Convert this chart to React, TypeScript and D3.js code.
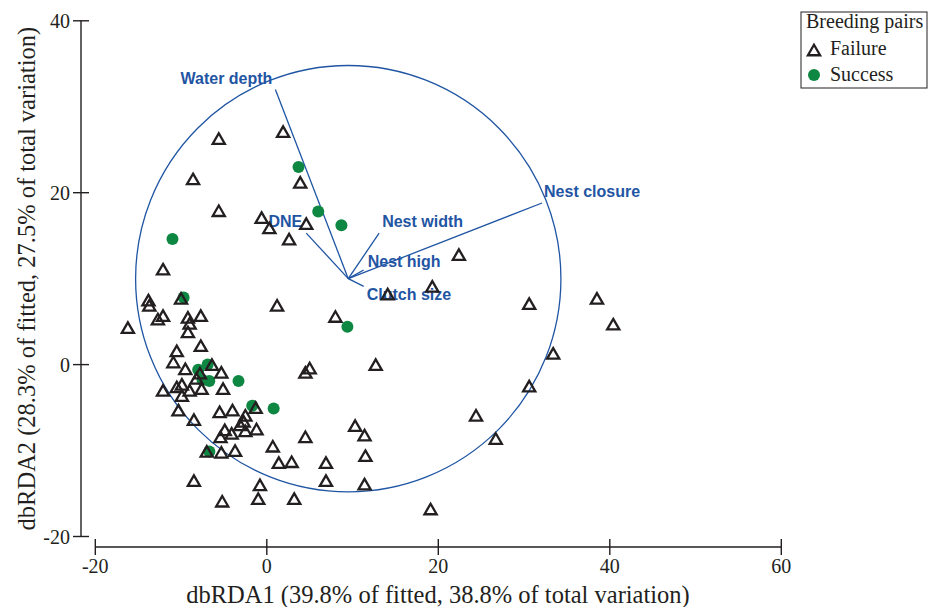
import React from "react";
import * as d3 from "d3";

// site scores
const failurePoints: [number, number][] = [
  [-5.6, 26.3], [1.9, 27.1], [-8.6, 21.6], [3.9, 21.2], [-5.6, 17.9],
  [-0.6, 17.1], [0.3, 15.9], [4.6, 16.4], [2.6, 14.6], [22.4, 12.8],
  [19.3, 9.1], [14.1, 8.2], [30.6, 7.1], [1.2, 6.9], [-12.1, 11.1],
  [-10.0, 7.7], [8.0, 5.6], [-13.8, 7.5], [-13.7, 6.9], [-12.7, 5.3],
  [-12.1, 5.7], [-16.2, 4.3], [-9.2, 5.5], [-7.7, 5.7], [-9.0, 4.8],
  [-9.2, 3.8], [-10.5, 1.6], [-7.7, 2.2], [-10.9, 0.3], [-9.5, -0.5],
  [-6.4, 0.0], [-5.3, -0.9], [-8.2, -1.6], [-7.8, -1.0], [-10.5, -2.6],
  [-9.9, -2.3], [-12.1, -3.0], [-9.0, -3.0], [-7.6, -2.8], [-5.1, -2.8],
  [-9.9, -3.6], [-10.3, -5.3], [-8.5, -6.4], [-5.5, -5.5], [-4.0, -5.3],
  [-1.3, -5.0], [-2.5, -5.9], [-2.7, -6.6], [-3.1, -7.0], [-4.9, -7.6],
  [-5.4, -8.4], [-4.1, -8.0], [-2.5, -7.7], [-1.2, -7.5], [4.5, -8.4],
  [0.7, -9.5], [-7.0, -10.1], [-5.3, -10.2], [-3.7, -10.0], [1.4, -11.4],
  [2.9, -11.3], [-8.5, -13.5], [-0.8, -14.0], [-5.2, -15.9], [-1.0, -15.6],
  [3.2, -15.6], [4.5, -0.9], [5.0, -0.4], [12.7, 0.0], [10.3, -7.1],
  [11.4, -8.2], [11.5, -10.6], [6.9, -11.4], [6.9, -13.5], [11.4, -13.9],
  [19.1, -16.8], [24.4, -5.9], [26.7, -8.6], [30.6, -2.5], [33.4, 1.3],
  [38.5, 7.7], [40.4, 4.7],
];

const successPoints: [number, number][] = [
  [3.7, 23.0], [6.0, 17.8], [8.7, 16.2], [-11.0, 14.6], [-9.7, 7.8],
  [9.4, 4.4], [-6.9, 0.0], [-8.0, -0.6], [-7.5, -1.8], [-6.7, -1.9],
  [-3.3, -1.9], [-1.7, -4.8], [0.8, -5.1], [-6.7, -10.1],
];

// predictor vectors: origin and tips
const vectorOrigin: [number, number] = [9.5, 10.0];
const vectorNames = ["Water depth", "Nest closure", "Nest width", "DNE", "Nest high", "Clutch size"];
const vectorTipX = [1.0, 32.1, 13.1, 4.6, 11.3, 11.3];
const vectorTipY = [32.0, 18.8, 15.3, 15.3, 11.0, 9.1];
const circleRadius = 24.8;

const xTicks = [-20, 0, 20, 40, 60];
const yTicks = [-20, 0, 20, 40];
const legendLabels = ["Failure", "Success"];

// where each vector label sits relative to its tip (px)
const labelPlace: Record<string, { dx: number; dy: number; anchor: string }> = {
  "Water depth": { dx: -3, dy: -6, anchor: "end" },
  "Nest closure": { dx: 2, dy: -6, anchor: "start" },
  "Nest width": { dx: 3, dy: -6, anchor: "start" },
  DNE: { dx: -4, dy: -6, anchor: "end" },
  "Nest high": { dx: 4, dy: -3, anchor: "start" },
  "Clutch size": { dx: 3, dy: 14, anchor: "start" },
};

const BLUE = "#1f55a3";
const GREEN = "#0e8742";
const INK = "#231f20";
const SERIF = "'Liberation Serif', 'Times New Roman', serif";
const SANS = "'Liberation Sans', Arial, sans-serif";

// triangle centred on its bounding box
const boxTriangle = {
  draw(ctx: any, size: number) {
    const s = Math.sqrt(size / (Math.sqrt(3) / 4));
    const h = (s * Math.sqrt(3)) / 2;
    ctx.moveTo(0, -h / 2);
    ctx.lineTo(s / 2, h / 2);
    ctx.lineTo(-s / 2, h / 2);
    ctx.closePath();
  },
};

export default function App() {
  const width = 929;
  const height = 607;
  const x = d3.scaleLinear().domain([-20, 60]).range([95.3, 781.3]);
  const y = d3.scaleLinear().domain([-20, 40]).range([536.5, 20.8]);
  const tri = d3.symbol(boxTriangle as any, 64)()!;

  const yAxisX = 81;
  const xAxisY = 547;
  const [ox, oy] = vectorOrigin;

  return (
    <svg
      width={width}
      height={height}
      style={{ position: "absolute", left: 0, top: 0, background: "#fff" }}
    >
      {/* y axis */}
      <line x1={yAxisX} x2={yAxisX} y1={y(40)} y2={y(-20)} stroke={INK} strokeWidth={1.4} />
      {yTicks.map((t) => (
        <g key={t}>
          <line x1={yAxisX - 8} x2={yAxisX + 8} y1={y(t)} y2={y(t)} stroke={INK} strokeWidth={1.4} />
          <text x={yAxisX - 11} y={y(t)} dy="0.35em" textAnchor="end" fontFamily={SERIF} fontSize={20} fill={INK}>
            {t}
          </text>
        </g>
      ))}
      {/* x axis */}
      <line x1={x(-20)} x2={x(60)} y1={xAxisY} y2={xAxisY} stroke={INK} strokeWidth={1.4} />
      {xTicks.map((t) => (
        <g key={t}>
          <line x1={x(t)} x2={x(t)} y1={xAxisY - 8} y2={xAxisY + 8} stroke={INK} strokeWidth={1.4} />
          <text x={x(t)} y={573} textAnchor="middle" fontFamily={SERIF} fontSize={20} fill={INK}>
            {t}
          </text>
        </g>
      ))}
      <text x={438} y={603} textAnchor="middle" fontFamily={SERIF} fontSize={24.5} fill={INK}>
        dbRDA1 (39.8% of fitted, 38.8% of total variation)
      </text>
      <text
        transform={`translate(35, ${(y(40) + y(-20)) / 2}) rotate(-90)`}
        textAnchor="middle"
        fontFamily={SERIF}
        fontSize={24.5}
        fill={INK}
      >
        dbRDA2 (28.3% of fitted, 27.5% of total variation)
      </text>

      {/* correlation circle */}
      <ellipse
        cx={x(ox)}
        cy={y(oy)}
        rx={x(ox + circleRadius) - x(ox)}
        ry={y(oy) - y(oy + circleRadius)}
        fill="none"
        stroke={BLUE}
        strokeWidth={1.3}
      />
      {vectorNames.map((name, i) => {
        const tx = x(vectorTipX[i]);
        const ty = y(vectorTipY[i]);
        const p = labelPlace[name];
        return (
          <g key={name}>
            <line x1={x(ox)} y1={y(oy)} x2={tx} y2={ty} stroke={BLUE} strokeWidth={1.3} />
            <text
              x={tx + p.dx}
              y={ty + p.dy}
              textAnchor={p.anchor as any}
              fontFamily={SANS}
              fontWeight="bold"
              fontSize={16}
              fill={BLUE}
            >
              {name}
            </text>
          </g>
        );
      })}

      {/* samples */}
      {successPoints.map(([a, b], i) => (
        <circle key={`s${i}`} cx={x(a)} cy={y(b)} r={6} fill={GREEN} />
      ))}
      {failurePoints.map(([a, b], i) => (
        <path
          key={`f${i}`}
          d={tri}
          transform={`translate(${x(a)},${y(b)})`}
          fill="none"
          stroke={INK}
          strokeWidth={2.3}
        />
      ))}

      {/* legend */}
      <g>
        <rect x={801} y={12} width={126} height={76} fill="#fff" stroke={INK} strokeWidth={1} />
        <text x={806} y={28} fontFamily={SERIF} fontSize={20} fill={INK}>
          Breeding pairs
        </text>
        <path d={tri} transform="translate(814,50)" fill="none" stroke={INK} strokeWidth={2.3} />
        <text x={830} y={55} fontFamily={SERIF} fontSize={20} fill={INK}>
          {legendLabels[0]}
        </text>
        <circle cx={814} cy={75} r={6} fill={GREEN} />
        <text x={830} y={81} fontFamily={SERIF} fontSize={20} fill={INK}>
          {legendLabels[1]}
        </text>
      </g>
    </svg>
  );
}
